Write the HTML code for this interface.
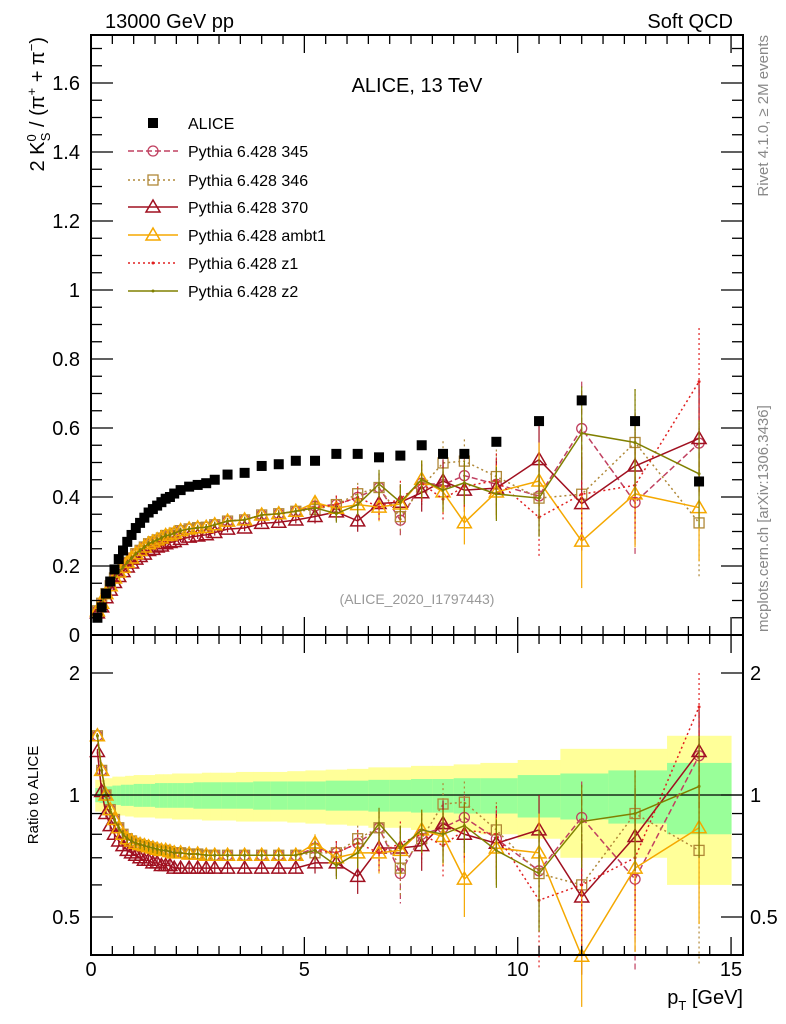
<!DOCTYPE html>
<html><head><meta charset="utf-8"><style>
body{margin:0;background:#fff}
svg{display:block;font-family:"Liberation Sans",sans-serif}
</style></head><body>
<svg id="c" width="786" height="1024" viewBox="0 0 786 1024">
<g id="bands"></g><g id="grid"></g><g id="marks"></g><g id="axes"></g>
<text x="105" y="28" font-size="20">13000 GeV pp</text>
<text x="733" y="28" font-size="20" text-anchor="end">Soft QCD</text>
<text x="417" y="92" font-size="20" text-anchor="middle">ALICE, 13 TeV</text>
<text x="417" y="604" font-size="14" fill="#999" text-anchor="middle">(ALICE_2020_I1797443)</text>
<text transform="translate(768,35) rotate(-90)" font-size="15" fill="#888" text-anchor="end">Rivet 4.1.0, ≥ 2M events</text>
<text transform="translate(768,632) rotate(-90)" font-size="15" fill="#888" text-anchor="start">mcplots.cern.ch [arXiv:1306.3436]</text>
<text transform="translate(44,37) rotate(-90)" font-size="20" text-anchor="end">2 K<tspan font-size="13" dy="-8">0</tspan><tspan font-size="13" dy="14" dx="-7">S</tspan><tspan dy="-6"> / (π</tspan><tspan font-size="13" dy="-8">+</tspan><tspan dy="8"> + π</tspan><tspan font-size="13" dy="-8">−</tspan><tspan dy="8">)</tspan></text>
<text transform="translate(38,795) rotate(-90)" font-size="15" text-anchor="middle">Ratio to ALICE</text>
<text x="743" y="1004" font-size="20" text-anchor="end">p<tspan font-size="13" dy="6">T</tspan><tspan dy="-6"> [GeV]</tspan></text>
<g id="legend"></g>
</svg>
<script>
const pT=[0.15,0.25,0.35,0.45,0.55,0.65,0.75,0.85,0.95,1.05,1.15,1.25,1.35,1.45,1.55,1.65,1.75,1.85,1.95,2.1,2.3,2.5,2.7,2.9,3.2,3.6,4.0,4.4,4.8,5.25,5.75,6.25,6.75,7.25,7.75,8.25,8.75,9.5,10.5,11.5,12.75,14.25];
const alice=[0.05,0.08,0.12,0.155,0.19,0.22,0.245,0.27,0.29,0.31,0.325,0.34,0.355,0.365,0.375,0.385,0.395,0.40,0.41,0.42,0.43,0.435,0.44,0.45,0.465,0.47,0.49,0.495,0.505,0.505,0.525,0.525,0.515,0.52,0.55,0.525,0.525,0.56,0.62,0.68,0.62,0.445];
const errTot=[0.09,0.09,0.1,0.1,0.11,0.11,0.11,0.115,0.115,0.12,0.12,0.12,0.12,0.12,0.125,0.125,0.125,0.125,0.13,0.13,0.13,0.13,0.135,0.135,0.135,0.14,0.14,0.14,0.145,0.15,0.155,0.16,0.17,0.17,0.18,0.18,0.19,0.2,0.22,0.3,0.3,0.4];
const errStat=[0.04,0.045,0.05,0.05,0.055,0.055,0.06,0.06,0.06,0.065,0.065,0.065,0.065,0.065,0.07,0.07,0.07,0.07,0.07,0.07,0.07,0.075,0.075,0.075,0.075,0.075,0.08,0.08,0.08,0.08,0.085,0.085,0.09,0.09,0.095,0.095,0.1,0.1,0.12,0.13,0.15,0.2];
const base=[1.4,1.15,1.0,0.92,0.87,0.83,0.80,0.78,0.77,0.76,0.755,0.75,0.745,0.74,0.735,0.73,0.73,0.725,0.72,0.72,0.715,0.715,0.71,0.71,0.71,0.71,0.71,0.71,0.71];
const r370lo=[1.28,1.02,0.9,0.84,0.80,0.77,0.75,0.73,0.72,0.71,0.70,0.69,0.69,0.68,0.68,0.67,0.67,0.67,0.66,0.66,0.66,0.66,0.66,0.66,0.66,0.66,0.66,0.66,0.66];
const r345hi=[0.74,0.72,0.76,0.83,0.64,0.80,0.83,0.88,0.78,0.65,0.88,0.62,1.25];
const r346hi=[0.72,0.72,0.78,0.83,0.66,0.78,0.95,0.96,0.82,0.64,0.60,0.90,0.73];
const r370hi=[0.68,0.68,0.63,0.74,0.74,0.75,0.85,0.80,0.76,0.82,0.56,0.79,1.28];
const rAmbt1hi=[0.76,0.70,0.72,0.72,0.73,0.82,0.79,0.62,0.74,0.72,0.40,0.66,0.83];
const rZ1hi=[0.73,0.72,0.76,0.72,0.76,0.80,0.75,0.82,0.80,0.55,0.60,0.70,1.65];
const rZ2hi=[0.73,0.67,0.72,0.85,0.74,0.82,0.80,0.84,0.73,0.64,0.86,0.90,1.05];
const mcErrHi=[0.04,0.05,0.06,0.08,0.1,0.1,0.12,0.12,0.14,0.18,0.2,0.25,0.35];
const yTicks=[0,0.2,0.4,0.6,0.8,1,1.2,1.4,1.6];
const xTicks=[0,5,10,15];
const rTicks=[0.5,1,2];

const L=91,R=743,T=35,MB=635,RB=955;
const X=v=>L+v*42.67;
const Y=v=>MB-v*345;
const RY=v=>795-Math.log(v)*176;
const NS="http://www.w3.org/2000/svg";
function mk(tag,attrs,parent){const e=document.createElementNS(NS,tag);for(const k in attrs)e.setAttribute(k,attrs[k]);document.getElementById(parent).appendChild(e);return e;}
const edges=[0.1];for(let i=0;i<pT.length;i++){edges.push(i<pT.length-1?(pT[i]+pT[i+1])/2:15);}
edges[edges.length-2]=13.5;
for(let i=0;i<pT.length;i++){
 const x0=X(edges[i]),x1=X(edges[i+1]);
 let b=mk('rect',{x:x0,y:RY(1+errTot[i]),width:x1-x0+0.5,height:RY(1-errTot[i])-RY(1+errTot[i]),fill:'#ffff99'},'bands');
 
 
 let g=mk('rect',{x:x0,y:RY(1+errStat[i]),width:x1-x0+0.5,height:RY(1-errStat[i])-RY(1+errStat[i]),fill:'#99ff99'},'bands');
 
 
}
let one=mk('line',{x1:L,x2:R,y1:RY(1),y2:RY(1),stroke:'#000','stroke-width':1.2},'bands');


const series=[
 {name:'Pythia 6.428 345',c:'#c04060',dash:'6,3',m:'circle',lo:base,hi:r345hi,id:'series-345'},
 {name:'Pythia 6.428 346',c:'#b08838',dash:'2,3',m:'square',lo:base,hi:r346hi,id:'series-346'},
 {name:'Pythia 6.428 370',c:'#a01020',dash:'',m:'tri',lo:r370lo,hi:r370hi,id:'series-370'},
 {name:'Pythia 6.428 ambt1',c:'#f5a800',dash:'',m:'tri',lo:base,hi:rAmbt1hi,id:'series-ambt1'},
 {name:'Pythia 6.428 z1',c:'#e02020',dash:'2,3',m:'dot',lo:base,hi:rZ1hi,id:'series-z1'},
 {name:'Pythia 6.428 z2',c:'#808000',dash:'',m:'dot',lo:base,hi:rZ2hi,id:'series-z2'}];
function marker(m,x,y,c,parent,name){
 let e;
 if(m==='circle')e=mk('circle',{cx:x,cy:y,r:5,fill:'none',stroke:c,'stroke-width':1.3},parent);
 else if(m==='square')e=mk('rect',{x:x-5,y:y-5,width:10,height:10,fill:'none',stroke:c,'stroke-width':1.3},parent);
 else if(m==='tri')e=mk('polygon',{points:`${x},${y-7} ${x-7},${y+5} ${x+7},${y+5}`,fill:'none',stroke:c,'stroke-width':1.5},parent);
 else if(m==='fsq')e=mk('rect',{x:x-5,y:y-5,width:10,height:10,fill:c},parent);
 else e=mk('circle',{cx:x,cy:y,r:1.5,fill:c},parent);
 
 
}
series.forEach(s=>{
 const ratio=s.lo.concat(s.hi);
 const vals=ratio.map((r,i)=>r*alice[i]);
 const mainPts=vals.map((v,i)=>X(pT[i])+','+Y(v)).join(' ');
 const rPts=ratio.map((r,i)=>X(pT[i])+','+RY(r)).join(' ');
 let pl=mk('polyline',{points:mainPts,fill:'none',stroke:s.c,'stroke-width':1.5,'stroke-dasharray':s.dash},'marks');
 
 
 let pr=mk('polyline',{points:rPts,fill:'none',stroke:s.c,'stroke-width':1.5,'stroke-dasharray':s.dash},'marks');
 
 
 ratio.forEach((r,i)=>{
  const e=i>=29?mcErrHi[i-29]:0.02;
  const x=X(pT[i]);
  let eb=mk('line',{x1:x,x2:x,y1:Y((r+e)*alice[i]),y2:Y((r-e)*alice[i]),stroke:s.c,'stroke-width':1.2,'stroke-dasharray':s.dash},'marks');
  
  
  let eb2=mk('line',{x1:x,x2:x,y1:RY(r+e),y2:RY(Math.max(0.3,r-e)),stroke:s.c,'stroke-width':1.2,'stroke-dasharray':s.dash},'marks');
  
  
  marker(s.m,x,Y(vals[i]),s.c,'marks',s.id+'-point');
  marker(s.m,x,RY(r),s.c,'marks',s.id+'-ratio-point');
 });
});
alice.forEach((v,i)=>marker('fsq',X(pT[i]),Y(v),'#000','marks','alice-point'));
[[T,MB],[MB,RB]].forEach(([a,b],k)=>{
 let f=mk('rect',{x:L,y:a,width:R-L,height:b-a,fill:'none',stroke:'#000','stroke-width':2},'axes');
 
 
 for(let v=0;v<=15.3;v+=0.5){const big=Math.abs(v-Math.round(v/5)*5)<1e-6;const len=big?18:9;
  mk('line',{x1:X(v),x2:X(v),y1:b,y2:b-len,stroke:'#000','stroke-width':1.3},'axes');
  mk('line',{x1:X(v),x2:X(v),y1:a,y2:a+len,stroke:'#000','stroke-width':1.3},'axes');}
});
for(let v=0;v<=1.74;v+=0.05){const big=Math.abs(v*5-Math.round(v*5))<1e-6;const len=big?22:11;
 mk('line',{x1:L,x2:L+len,y1:Y(v),y2:Y(v),stroke:'#000','stroke-width':1.3},'axes');
 mk('line',{x1:R,x2:R-len,y1:Y(v),y2:Y(v),stroke:'#000','stroke-width':1.3},'axes');}
yTicks.forEach(v=>{let t=mk('text',{x:80,y:Y(v)+7,'font-size':20,'text-anchor':'end'},'axes');t.textContent=String(v);
 
 });
xTicks.forEach(v=>{let t=mk('text',{x:X(v),y:976,'font-size':20,'text-anchor':'middle'},'axes');t.textContent=String(v);
 
 });
[0.5,0.6,0.7,0.8,0.9,1,2].forEach(v=>{const big=rTicks.includes(v);const len=big?22:11;
 mk('line',{x1:L,x2:L+len,y1:RY(v),y2:RY(v),stroke:'#000','stroke-width':1.3},'axes');
 mk('line',{x1:R,x2:R-len,y1:RY(v),y2:RY(v),stroke:'#000','stroke-width':1.3},'axes');});
rTicks.forEach(v=>{let t=mk('text',{x:80,y:RY(v)+7,'font-size':20,'text-anchor':'end'},'axes');t.textContent=String(v);
 
 
 let t2=mk('text',{x:750,y:RY(v)+7,'font-size':20},'axes');t2.textContent=String(v);
 
 });
const ly=[123,151,180,207,235,263,291];
let la=mk('text',{x:188,y:ly[0]+6,'font-size':16},'legend');la.textContent='ALICE';


marker('fsq',153,ly[0],'#000','legend','legend-marker-alice');
series.forEach((s,i)=>{const y=ly[i+1];
 let l=mk('line',{x1:128,x2:178,y1:y,y2:y,stroke:s.c,'stroke-width':1.5,'stroke-dasharray':s.dash},'legend');
 
 
 marker(s.m,153,y,s.c,'legend','legend-marker');
 let t=mk('text',{x:188,y:y+6,'font-size':16},'legend');t.textContent=s.name;
 
 });
</script>
</body></html>
